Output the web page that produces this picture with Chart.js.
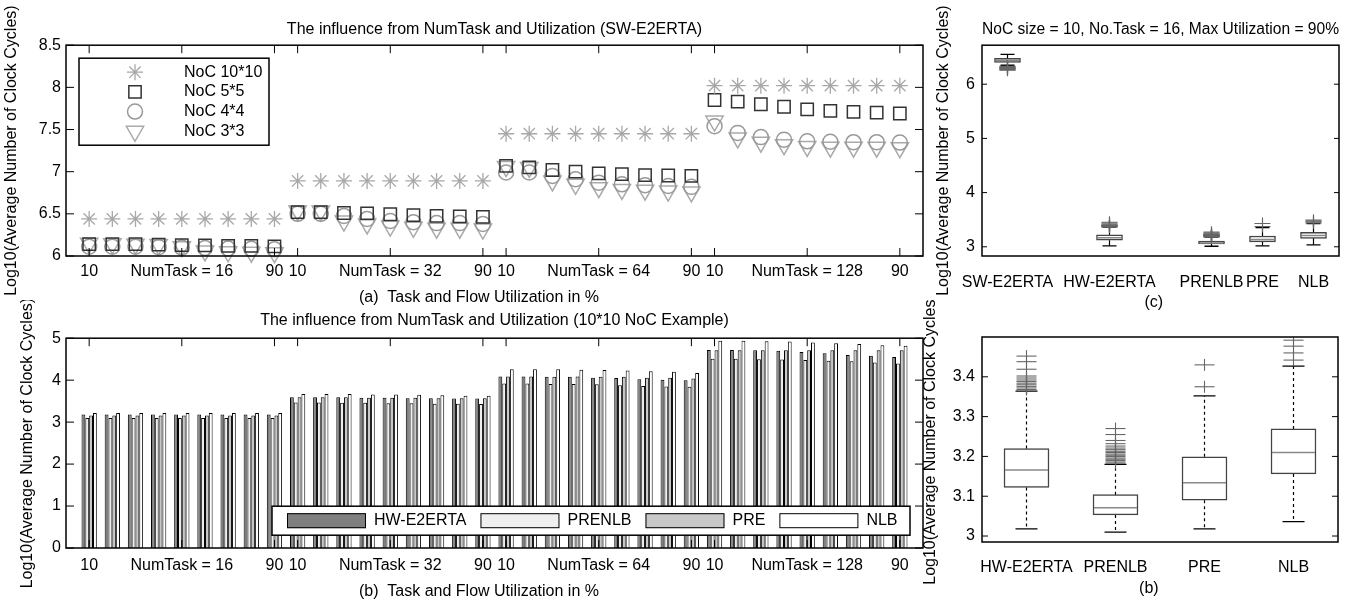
<!DOCTYPE html>
<html lang="en">
<head>
<meta charset="UTF-8">
<title>Influence from NumTask and Utilization</title>
<script src="https://cdn.jsdelivr.net/npm/chart.js"></script>
<style>
    body {
        margin: 0;
        background: #fff;
        width: 1365px;
        height: 604px;
        position: relative;
        overflow: hidden;
    }
    canvas { position: absolute; }
    #chartA { left: 0; top: 0; }
    #chartB { left: 0; top: 300px; }
    #chartC { left: 900px; top: 0; }
    #chartD { left: 900px; top: 300px; }
</style>
</head>
<body>
<canvas id="chartA" width="935" height="310"></canvas>
<canvas id="chartB" width="935" height="304"></canvas>
<canvas id="chartC" width="465" height="320"></canvas>
<canvas id="chartD" width="465" height="304"></canvas>

<script>
// x positions 0..35 = utilization 10..90% for NumTask 16, 32, 64, 128
const utilTicks = [0, 4, 8, 9, 13, 17, 18, 22, 26, 27, 31, 35];
const utilLabels = ['10', 'NumTask = 16', '90', '10', 'NumTask = 32', '90',
                    '10', 'NumTask = 64', '90', '10', 'NumTask = 128', '90'];

// (a) SW-E2ERTA, per NoC size
const noc10 = [6.44, 6.44, 6.44, 6.44, 6.44, 6.44, 6.44, 6.44, 6.44,
               6.89, 6.89, 6.89, 6.89, 6.89, 6.89, 6.89, 6.89, 6.89,
               7.45, 7.45, 7.45, 7.45, 7.45, 7.45, 7.45, 7.45, 7.45,
               8.02, 8.02, 8.02, 8.02, 8.02, 8.02, 8.02, 8.02, 8.02];
const noc5 = [6.14, 6.14, 6.14, 6.135, 6.13, 6.125, 6.12, 6.12, 6.115,
              6.52, 6.52, 6.51, 6.505, 6.495, 6.485, 6.475, 6.47, 6.465,
              7.07, 7.05, 7.02, 7.00, 6.98, 6.97, 6.96, 6.955, 6.95,
              7.85, 7.83, 7.80, 7.77, 7.74, 7.72, 7.71, 7.70, 7.69];
const noc4 = [6.11, 6.11, 6.11, 6.105, 6.10, 6.095, 6.09, 6.085, 6.08,
              6.50, 6.50, 6.475, 6.44, 6.415, 6.40, 6.39, 6.39, 6.38,
              6.99, 6.99, 6.95, 6.91, 6.87, 6.85, 6.84, 6.83, 6.82,
              7.54, 7.46, 7.41, 7.38, 7.36, 7.355, 7.35, 7.35, 7.345];
const noc3 = [6.15, 6.145, 6.14, 6.135, 6.11, 6.06, 6.05, 6.045, 6.04,
              6.535, 6.535, 6.415, 6.38, 6.355, 6.34, 6.33, 6.33, 6.32,
              7.06, 7.05, 6.89, 6.85, 6.81, 6.79, 6.78, 6.77, 6.76,
              7.60, 7.40, 7.35, 7.32, 7.30, 7.29, 7.29, 7.29, 7.285];

// (b) 10*10 NoC example, per method
const hw = [3.18, 3.18, 3.18, 3.18, 3.18, 3.18, 3.18, 3.18, 3.18,
            3.59, 3.59, 3.59, 3.58, 3.58, 3.57, 3.57, 3.56, 3.56,
            4.09, 4.09, 4.08, 4.08, 4.06, 4.05, 4.02, 4.01, 4.00,
            4.72, 4.72, 4.71, 4.70, 4.67, 4.64, 4.60, 4.58, 4.55];
const prenlb = [3.10, 3.10, 3.10, 3.10, 3.10, 3.10, 3.10, 3.10, 3.10,
                3.47, 3.47, 3.46, 3.46, 3.45, 3.45, 3.44, 3.44, 3.43,
                3.92, 3.92, 3.91, 3.91, 3.90, 3.88, 3.86, 3.85, 3.84,
                4.51, 4.51, 4.50, 4.49, 4.48, 4.46, 4.45, 4.42, 4.40];
const pre = [3.16, 3.16, 3.16, 3.16, 3.16, 3.16, 3.16, 3.16, 3.16,
             3.59, 3.59, 3.59, 3.58, 3.58, 3.58, 3.57, 3.57, 3.57,
             4.09, 4.09, 4.08, 4.09, 4.08, 4.08, 4.06, 4.06, 4.04,
             4.71, 4.71, 4.71, 4.71, 4.71, 4.71, 4.71, 4.71, 4.71];
const nlb = [3.22, 3.22, 3.22, 3.22, 3.22, 3.22, 3.22, 3.22, 3.22,
             3.67, 3.67, 3.67, 3.66, 3.66, 3.65, 3.64, 3.63, 3.63,
             4.26, 4.26, 4.26, 4.25, 4.24, 4.23, 4.21, 4.20, 4.17,
             4.94, 4.94, 4.93, 4.92, 4.90, 4.88, 4.86, 4.83, 4.82];

// box plots (c) and (b): NoC size 10, 16 tasks, max utilization 90%
const boxNames = ['SW-E2ERTA', 'HW-E2ERTA', 'PRENLB', 'PRE', 'NLB'];
const boxPos = [1, 3, 5, 6, 7];
const boxQ1 = [6.40, 3.122, 3.053, 3.090, 3.156];
const boxMed = [6.44, 3.166, 3.071, 3.134, 3.210];
const boxQ3 = [6.48, 3.220, 3.104, 3.199, 3.269];
const boxLo = [6.35, 3.018, 3.010, 3.018, 3.036];
const boxHi = [6.55, 3.364, 3.180, 3.352, 3.427];
const boxOut = [
    [6.26, 6.27, 6.28, 6.285, 6.29, 6.30, 6.31, 6.32, 6.33],
    [3.368, 3.372, 3.376, 3.38, 3.384, 3.388, 3.392, 3.397, 3.402, 3.419, 3.438, 3.452],
    [3.183, 3.186, 3.19, 3.193, 3.196, 3.2, 3.203, 3.206, 3.21, 3.213, 3.217, 3.221, 3.226, 3.232, 3.24, 3.255, 3.27],
    [3.375, 3.43],
    [3.442, 3.46, 3.477, 3.492]
];

const yTitle = 'Log10(Average Number of Clock Cycles)';
const FONT = "'Liberation Sans', Arial, Helvetica, sans-serif";
const NB = '\u00a0';

Chart.defaults.font.family = FONT;
Chart.defaults.font.size = 16;
Chart.defaults.color = '#000';
Chart.defaults.animation = false;
Chart.defaults.plugins.legend.display = false;
Chart.defaults.plugins.tooltip.enabled = false;

function fixedTicks(values) {
    return scale => { scale.ticks = values.map(v => ({value: v})); };
}

// box frame with inward tick marks
const framePlugin = {
    id: 'frame',
    afterDatasetsDraw(chart, args, o) {
        const {ctx, chartArea: a, scales} = chart;
        const len = o.len || 8;
        ctx.save();
        ctx.strokeStyle = '#000';
        ctx.lineWidth = 1;
        ctx.beginPath();
        if (o.yTicks) {
            scales.y.ticks.forEach(t => {
                const p = scales.y.getPixelForValue(t.value);
                ctx.moveTo(a.left, p); ctx.lineTo(a.left + len, p);
                ctx.moveTo(a.right, p); ctx.lineTo(a.right - len, p);
            });
        }
        if (o.xTicks) {
            scales.x.ticks.forEach(t => {
                const p = scales.x.getPixelForValue(t.value);
                ctx.moveTo(p, a.top); ctx.lineTo(p, a.top + len);
                ctx.moveTo(p, a.bottom); ctx.lineTo(p, a.bottom - len);
            });
        }
        ctx.stroke();
        ctx.lineWidth = 1.5;
        ctx.strokeRect(a.left, a.top, a.right - a.left, a.bottom - a.top);
        ctx.restore();
    }
};

// boxed legends drawn inside the plot area
const boxLegend = {
    id: 'boxLegend',
    afterDraw(chart, args, o) {
        if (!o.kind) return;
        const {ctx, chartArea: a} = chart;
        const x0 = a.left + o.dx, y0 = a.top + o.dy;
        ctx.save();
        ctx.fillStyle = '#fff';
        ctx.fillRect(x0, y0, o.w, o.h);
        ctx.strokeStyle = '#000';
        ctx.lineWidth = 1.5;
        ctx.strokeRect(x0, y0, o.w, o.h);
        ctx.font = '16px ' + FONT;
        ctx.textBaseline = 'middle';
        ctx.textAlign = 'left';
        if (o.kind === 'marker') {
            chart.data.datasets.forEach((ds, i) => {
                const cy = y0 + o.first + i * o.step;
                ctx.strokeStyle = ds.pointBorderColor;
                ctx.lineWidth = ds.pointBorderWidth;
                ctx.fillStyle = 'rgba(0,0,0,0)';
                if (Chart.helpers && Chart.helpers.drawPoint) {
                    Chart.helpers.drawPoint(ctx, {
                        pointStyle: ds.pointStyle, rotation: ds.pointRotation || 0,
                        radius: ds.pointRadius, borderWidth: ds.pointBorderWidth
                    }, x0 + o.markerX, cy);
                } else {
                    ctx.beginPath();
                    ctx.arc(x0 + o.markerX, cy, ds.pointRadius, 0, Math.PI * 2);
                    ctx.stroke();
                }
                ctx.fillStyle = '#000';
                ctx.fillText(ds.label, x0 + o.textX, cy);
            });
        } else {
            let x = x0 + 15;
            const cy = y0 + o.h / 2;
            chart.data.datasets.forEach(ds => {
                ctx.fillStyle = ds.backgroundColor;
                ctx.fillRect(x, cy - 7.5, 79, 15);
                ctx.lineWidth = 1;
                ctx.strokeStyle = '#000';
                ctx.strokeRect(x + 0.5, cy - 7, 78, 14);
                x += 79 + 8;
                ctx.fillStyle = '#000';
                ctx.fillText(ds.label, x, cy);
                x += ctx.measureText(ds.label).width + 14;
            });
        }
        ctx.restore();
    }
};

function utilAxis(title, labelPad, height) {
    return {
        type: 'linear', min: -1, max: 36, offset: false,
        afterBuildTicks: fixedTicks(utilTicks),
        afterFit: s => { s.height = height; },
        grid: {display: false, drawTicks: false, tickLength: 0},
        border: {display: false},
        ticks: {autoSkip: false, maxRotation: 0, minRotation: 0, padding: labelPad,
                callback: v => utilLabels[utilTicks.indexOf(v)]},
        title: {display: true, text: title, padding: 0}
    };
}

function valueAxis(min, max, ticks, width, titlePad, labelPad) {
    return {
        min: min, max: max,
        afterBuildTicks: fixedTicks(ticks),
        afterFit: s => { s.width = width; },
        grid: {display: false, drawTicks: false, tickLength: 0},
        border: {display: false},
        ticks: {padding: labelPad, callback: v => String(+v.toFixed(2))},
        title: {display: true, text: yTitle, padding: {top: titlePad, bottom: 0}}
    };
}

function pts(values) {
    return values.map((v, i) => ({x: i, y: v}));
}

// ---------- (a) ----------
new Chart(document.getElementById('chartA'), {
    type: 'scatter',
    data: {
        datasets: [
            {label: 'NoC 10*10', data: pts(noc10), pointStyle: 'star', pointRadius: 8,
             pointBorderColor: '#a8a8a8', pointBorderWidth: 1.3, pointBackgroundColor: 'rgba(0,0,0,0)', clip: false},
            {label: 'NoC 5*5', data: pts(noc5), pointStyle: 'rect', pointRadius: 8.7,
             pointBorderColor: '#333', pointBorderWidth: 1.5, pointBackgroundColor: 'rgba(0,0,0,0)', clip: false},
            {label: 'NoC 4*4', data: pts(noc4), pointStyle: 'circle', pointRadius: 7.5,
             pointBorderColor: '#999', pointBorderWidth: 1.5, pointBackgroundColor: 'rgba(0,0,0,0)', clip: false},
            {label: 'NoC 3*3', data: pts(noc3), pointStyle: 'triangle', pointRotation: 180, pointRadius: 10,
             pointBorderColor: '#aaa', pointBorderWidth: 1.5, pointBackgroundColor: 'rgba(0,0,0,0)', clip: false}
        ]
    },
    options: {
        responsive: false,
        layout: {padding: {left: 2, right: 12, top: 0, bottom: 3}},
        plugins: {
            title: {display: true, fullSize: false, text: 'The influence from NumTask and Utilization (SW-E2ERTA)',
                    font: {size: 16, weight: 'normal'}, padding: {top: 20, bottom: 6}},
            frame: {xTicks: true, yTicks: true, len: 8},
            boxLegend: {kind: 'marker', dx: 13, dy: 13, w: 190, h: 87, first: 14, step: 19.7, markerX: 56, textX: 105}
        },
        scales: {
            x: utilAxis('(a)' + NB + NB + 'Task and Flow Utilization in %' + NB.repeat(7), 6, 51),
            y: valueAxis(6, 8.5, [6, 6.5, 7, 7.5, 8, 8.5], 64, 0, 5)
        }
    },
    plugins: [framePlugin, boxLegend]
});

// ---------- (b) bars ----------
new Chart(document.getElementById('chartB'), {
    type: 'bar',
    data: {
        datasets: [
            {label: 'HW-E2ERTA', data: pts(hw), backgroundColor: '#7f7f7f'},
            {label: 'PRENLB', data: pts(prenlb), backgroundColor: '#efefef'},
            {label: 'PRE', data: pts(pre), backgroundColor: '#c8c8c8'},
            {label: 'NLB', data: pts(nlb), backgroundColor: '#ffffff'}
        ].map(ds => Object.assign(ds, {borderColor: '#000', borderWidth: 1, categoryPercentage: 0.66, barPercentage: 1}))
    },
    options: {
        responsive: false,
        layout: {padding: {left: 2, right: 12, top: 0, bottom: 3}},
        plugins: {
            title: {display: true, fullSize: false, text: 'The influence from NumTask and Utilization (10*10 NoC Example)',
                    font: {size: 16, weight: 'normal'}, padding: {top: 11, bottom: 8}},
            frame: {xTicks: true, yTicks: true, len: 8},
            boxLegend: {kind: 'swatch', dx: 206, dy: 168, w: 638, h: 29}
        },
        scales: {
            x: utilAxis('(b)' + NB + NB + 'Task and Flow Utilization in %' + NB.repeat(7), 8, 53),
            y: valueAxis(0, 5, [0, 1, 2, 3, 4, 5], 64, 16, 5)
        }
    },
    plugins: [framePlugin, boxLegend]
});

// ---------- box plot helpers ----------
function boxDatasets(idx, xOf, o) {
    const whisk = [], caps = [], outs = [];
    idx.forEach(i => {
        const x = xOf(i);
        whisk.push({x, y: boxQ3[i]}, {x, y: boxHi[i]}, {x, y: null},
                   {x, y: boxQ1[i]}, {x, y: boxLo[i]}, {x, y: null});
        caps.push({x, y: boxHi[i]}, {x, y: boxLo[i]});
        boxOut[i].forEach(v => outs.push({x, y: v}));
    });
    return [
        {type: 'bar', data: idx.map(i => ({x: xOf(i), y: [boxQ1[i], boxQ3[i]]})), barThickness: o.boxW,
         backgroundColor: '#fff', borderColor: '#444', borderWidth: 1.5, borderSkipped: false, order: 5},
        {type: 'line', data: whisk, borderColor: '#000', borderWidth: 1.2, borderDash: o.dash,
         pointRadius: 0, spanGaps: false, order: 4},
        {type: 'line', showLine: false, data: idx.map(i => ({x: xOf(i), y: boxMed[i]})), pointStyle: 'line',
         pointRadius: o.boxW / 2 - 1, pointBorderColor: '#888', pointBorderWidth: 1.5, order: 3},
        {type: 'line', showLine: false, data: caps, pointStyle: 'line', pointRadius: o.cap,
         pointBorderColor: '#000', pointBorderWidth: 1.3, order: 2},
        {type: 'line', showLine: false, data: outs, pointStyle: 'line', pointRadius: o.outW,
         pointBorderColor: '#666', pointBorderWidth: 1.1, order: 1},
        {type: 'line', showLine: false, data: outs, pointStyle: 'line', pointRotation: 90, pointRadius: 6,
         pointBorderColor: '#666', pointBorderWidth: 1.1, order: 1}
    ];
}

// ---------- (c) ----------
new Chart(document.getElementById('chartC'), {
    type: 'bar',
    data: {datasets: boxDatasets([0, 1, 2, 3, 4], i => boxPos[i], {boxW: 26, dash: [], cap: 7, outW: 8})},
    options: {
        responsive: false,
        layout: {padding: {left: 2, right: 26, top: 0, bottom: 8}},
        plugins: {
            title: {display: true, fullSize: false, text: 'NoC size = 10, No.Task = 16, Max Utilization = 90%',
                    font: {size: 16, weight: 'normal'}, padding: {top: 20, bottom: 6}},
            frame: {yTicks: true, len: 5}
        },
        scales: {
            x: {
                type: 'linear', min: 0.5, max: 7.5, offset: false,
                afterBuildTicks: fixedTicks(boxPos),
                afterFit: s => { s.height = 56; },
                grid: {display: false, drawTicks: false, tickLength: 0},
                border: {display: false},
                ticks: {autoSkip: false, maxRotation: 0, minRotation: 0, padding: 17,
                        callback: v => boxNames[boxPos.indexOf(v)]},
                title: {display: true, text: '(c)' + NB.repeat(3), padding: 0}
            },
            y: valueAxis(2.83, 6.72, [3, 4, 5, 6], 80, 32, 7)
        }
    },
    plugins: [framePlugin]
});

// ---------- (b) box plot zoom ----------
new Chart(document.getElementById('chartD'), {
    type: 'bar',
    data: {
        labels: boxNames.slice(1),
        datasets: boxDatasets([1, 2, 3, 4], i => boxNames[i], {boxW: 45, dash: [3, 3], cap: 11, outW: 10})
    },
    options: {
        responsive: false,
        layout: {padding: {left: 2, right: 27, top: 37, bottom: 6}},
        plugins: {
            frame: {yTicks: true, len: 6}
        },
        scales: {
            x: {
                type: 'category',
                afterFit: s => { s.height = 56; },
                grid: {display: false, drawTicks: false, tickLength: 0},
                border: {display: false},
                ticks: {autoSkip: false, maxRotation: 0, minRotation: 0, padding: 16},
                title: {display: true, text: '(b)' + NB.repeat(5), padding: 0}
            },
            y: valueAxis(2.985, 3.5, [3, 3.1, 3.2, 3.3, 3.4], 80, 19, 7)
        }
    },
    plugins: [framePlugin]
});
</script>
</body>
</html>
